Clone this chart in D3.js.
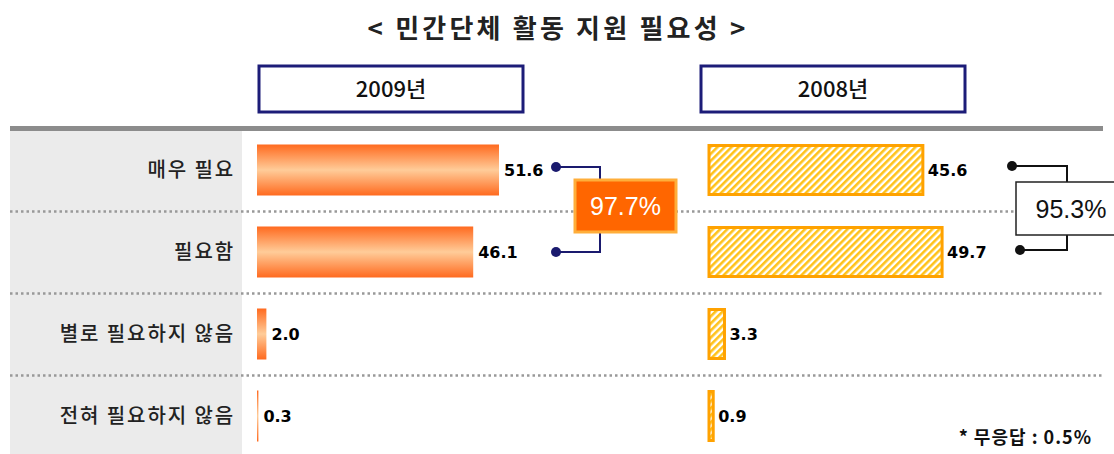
<!DOCTYPE html>
<html><head><meta charset="utf-8">
<script src="https://cdn.jsdelivr.net/npm/d3@7"></script>
<style>body{margin:0;background:#fff}svg{display:block}</style>
</head><body>
<svg id="c" width="1114" height="454"></svg>
<script>
const categories = ["매우 필요", "필요함", "별로 필요하지 않음", "전혀 필요하지 않음"];
const values2009 = [51.6, 46.1, 2.0, 0.3];
const values2008 = [45.6, 49.7, 3.3, 0.9];
const years = ["2009년", "2008년"];
const sum2009 = "97.7%";
const sum2008 = "95.3%";
const footnote = "* 무응답 : 0.5%";
const title = "< 민간단체 활동 지원 필요성 >";

const svg = d3.select("#c");
const KR = "'Noto Sans CJK KR','Noto Sans',sans-serif";
const NUM = "'DejaVu Sans',sans-serif";
const PCT = "'Liberation Sans',Arial,sans-serif";

const defs = svg.append("defs");
const g1 = defs.append("linearGradient").attr("id","grad").attr("x1",0).attr("y1",0).attr("x2",0).attr("y2",1);
[[0,"#ff6a1f"],[0.5,"#ffcc99"],[1,"#ff6a1f"]].forEach(([o,c])=>g1.append("stop").attr("offset",o).attr("stop-color",c));
const pat = defs.append("pattern").attr("id","hatch").attr("patternUnits","userSpaceOnUse")
  .attr("width",5).attr("height",5).attr("patternTransform","rotate(45)");
pat.append("rect").attr("width",5).attr("height",5).attr("fill","#fff");
pat.append("rect").attr("width",2.6).attr("height",5).attr("fill","#ffc21a");

// title
svg.append("text").attr("x",558).attr("y",38).attr("text-anchor","middle")
  .attr("font-family",KR).attr("font-weight",700).attr("font-size",26).attr("letter-spacing",3.2)
  .attr("fill","#222").text(title);

// left panel
svg.append("rect").attr("x",10).attr("y",131).attr("width",232).attr("height",323).attr("fill","#ebebeb");
svg.append("rect").attr("x",10).attr("y",126).attr("width",1093).attr("height",5).attr("fill","#8c8c8c");

// header boxes
const headers = [{x:259,w:264},{x:701,w:264}];
headers.forEach((h,i)=>{
  svg.append("rect").attr("x",h.x).attr("y",66).attr("width",h.w).attr("height",46)
    .attr("fill","#fff").attr("stroke","#1c1c78").attr("stroke-width",3);
  svg.append("text").attr("x",h.x+h.w/2).attr("y",97).attr("text-anchor","middle")
    .attr("font-family",KR).attr("font-weight",500).attr("font-size",22).attr("fill","#111").text(years[i]);
});

const y = d3.scaleBand().domain(categories).range([129, 457]).paddingInner(0).paddingOuter(0);
const barH = 51;
const x = d3.scaleLinear().domain([0, 51.6]).range([0, 242]);

// separators
categories.slice(1).forEach(c=>{
  svg.append("line").attr("x1",10).attr("x2",1103).attr("y1",y(c)+0.5).attr("y2",y(c)+0.5)
    .attr("stroke","#999").attr("stroke-width",2.5).attr("stroke-dasharray","2.5,3");
});

// category labels
svg.selectAll(".cat").data(categories).join("text")
  .attr("x",235).attr("y",d=>y(d)+y.bandwidth()/2+7).attr("text-anchor","end")
  .attr("font-family",KR).attr("font-weight",500).attr("font-size",20).attr("letter-spacing",1.9)
  .attr("fill","#222").text(d=>d);

const cy = d=>y(d)+y.bandwidth()/2;

// 2009 bars
const x0a = 257;
svg.selectAll(".b9").data(categories).join("rect")
  .attr("x",x0a).attr("y",d=>cy(d)-barH/2).attr("height",barH)
  .attr("width",(d,i)=>x(values2009[i])).attr("fill","url(#grad)");
svg.selectAll(".l9").data(categories).join("text")
  .attr("x",(d,i)=>x0a+Math.max(x(values2009[i]),1)+5).attr("y",d=>cy(d)+6)
  .attr("font-family",NUM).attr("font-weight",700).attr("font-size",16).attr("fill","#000")
  .text((d,i)=>values2009[i].toFixed(1));

// 2008 bars
const x0b = 709;
svg.selectAll(".b8").data(categories).join("rect")
  .attr("x",x0b).attr("y",d=>cy(d)-barH/2+1).attr("height",barH-2)
  .attr("width",(d,i)=>x(values2008[i])).attr("fill","url(#hatch)")
  .attr("stroke","#ffa200").attr("stroke-width",3);
svg.selectAll(".l8").data(categories).join("text")
  .attr("x",(d,i)=>x0b+x(values2008[i])+5).attr("y",d=>cy(d)+6)
  .attr("font-family",NUM).attr("font-weight",700).attr("font-size",16).attr("fill","#000")
  .text((d,i)=>values2008[i].toFixed(1));

// brackets
function bracket(dx1, dx2, vx, col, yTop, yBot, box, boxFill, boxStroke, txtCol, label){
  svg.append("path").attr("d",`M${dx1},${yTop}H${vx}V${box.y} M${dx2},${yBot}H${vx}V${box.y+box.h}`)
    .attr("fill","none").attr("stroke",col).attr("stroke-width",2);
  svg.append("circle").attr("cx",dx1).attr("cy",yTop).attr("r",5).attr("fill",col);
  svg.append("circle").attr("cx",dx2).attr("cy",yBot).attr("r",5).attr("fill",col);
  svg.append("rect").attr("x",box.x).attr("y",box.y).attr("width",box.w).attr("height",box.h)
    .attr("fill",boxFill).attr("stroke",boxStroke).attr("stroke-width",box.sw);
  svg.append("text").attr("x",box.x+box.w/2).attr("y",box.y+box.h/2+9).attr("text-anchor","middle")
    .attr("font-family",PCT).attr("font-size",25).attr("fill",txtCol).text(label);
}
const r0 = cy(categories[0])-3, r1 = cy(categories[1]);
bracket(556,556,600,"#1a1a6e", r0, r1, {x:575,y:180,w:101,h:52,sw:3}, "#ff6600","#ffae3a","#fff", sum2009);
bracket(1012,1020,1067,"#111", r0-1, r1-2, {x:1016,y:182,w:110,h:53,sw:1.5}, "#fff","#222","#111", sum2008);

// footnote
svg.append("text").attr("x",1092).attr("y",444).attr("text-anchor","end")
  .attr("font-family",KR).attr("font-weight",700).attr("font-size",18).attr("letter-spacing",1)
  .attr("fill","#111").text(footnote);
</script>
</body></html>
